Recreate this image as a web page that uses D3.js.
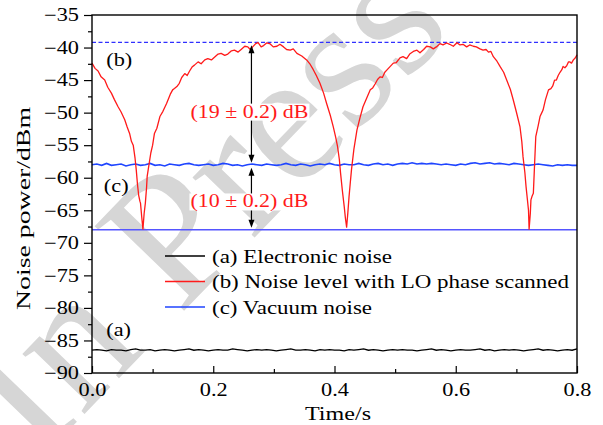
<!DOCTYPE html>
<html lang="en">
<head>
<meta charset="UTF-8" />
<title>Noise power</title>
<script src="https://d3js.org/d3.v7.min.js"></script>
<style>
  body { margin: 0; background: #fff; }
  svg { display: block; font-family: "Liberation Serif", "Times New Roman", serif; }
</style>
</head>
<body>
<svg width="603" height="425"></svg>
<script>
// ---- data ----
const yTicks = [-90, -85, -80, -75, -70, -65, -60, -55, -50, -45, -40, -35];
const xTicks = [0.0, 0.2, 0.4, 0.6, 0.8];

// (b) noise level with LO phase scanned: [time (s), level (dBm)]
const scanPoints = [
  [0, -42.4], [.005, -43.2], [.010, -43.6], [.015, -44.5], [.021, -45.0], [.026, -46.1], [.032, -47.0], [.037, -48.0],
  [.043, -49.1], [.048, -49.9], [.054, -51.1], [.058, -52.2], [.062, -53.2], [.065, -54.4], [.068, -55.0], [.071, -57.0],
  [.073, -58.8], [.075, -61.0], [.077, -62.7], [.079, -63.6], [.080, -63.9], [.082, -66.0], [.084, -67.9], [.086, -65.5],
  [.088, -63.9], [.090, -61.5], [.091, -59.8], [.094, -58.0], [.097, -56.2], [.100, -55.0], [.103, -53.2], [.107, -52.4],
  [.112, -50.6], [.117, -49.8], [.123, -48.6], [.129, -47.2], [.133, -46.5], [.136, -46.3], [.140, -46.0], [.144, -45.5],
  [.148, -44.6], [.153, -44.0], [.157, -44.3], [.161, -43.6], [.165, -43.0], [.169, -42.7], [.175, -42.2], [.180, -42.5],
  [.186, -41.9], [.191, -41.7], [.197, -41.9], [.202, -41.5], [.208, -41.0], [.213, -40.9], [.219, -41.2], [.224, -41.0],
  [.230, -40.5], [.235, -40.4], [.241, -40.7], [.246, -40.3], [.252, -39.8], [.257, -39.9], [.261, -40.3], [.265, -39.9],
  [.270, -39.4], [.274, -39.25], [.279, -39.9], [.283, -39.7], [.288, -39.3], [.294, -39.45], [.299, -39.9], [.305, -39.8],
  [.310, -39.5], [.316, -39.9], [.321, -40.3], [.327, -40.4], [.332, -40.2], [.338, -40.9], [.346, -41.3], [.354, -41.9],
  [.360, -42.6], [.365, -43.4], [.370, -44.3], [.376, -45.5], [.382, -47.0], [.387, -48.6], [.393, -50.4], [.398, -52.2],
  [.402, -53.8], [.405, -55.2], [.408, -57.2], [.410, -59.3], [.413, -62.0], [.416, -64.4], [.418, -66.2], [.420, -67.6],
  [.422, -65.4], [.424, -62.9], [.426, -60.8], [.428, -58.8], [.432, -55.6], [.437, -52.7], [.442, -50.8], [.447, -49.1],
  [.453, -47.8], [.459, -46.5], [.463, -46.2], [.467, -45.6], [.471, -44.9], [.475, -44.5], [.479, -44.6], [.483, -43.8],
  [.487, -43.4], [.492, -42.9], [.497, -42.4], [.502, -42.3], [.508, -41.6], [.513, -41.4], [.519, -41.7], [.524, -41.0],
  [.530, -40.6], [.536, -40.4], [.541, -40.8], [.547, -40.3], [.552, -39.8], [.558, -39.9], [.563, -40.2], [.568, -39.9],
  [.574, -39.4], [.579, -39.6], [.585, -39.3], [.590, -39.5], [.596, -39.8], [.602, -39.25], [.607, -39.6], [.612, -39.5],
  [.618, -39.9], [.623, -39.6], [.629, -39.8], [.634, -39.9], [.640, -40.2], [.645, -40.4], [.650, -40.3], [.654, -40.7],
  [.658, -40.6], [.662, -41.4], [.668, -42.1], [.673, -42.9], [.679, -43.8], [.684, -45.0], [.690, -46.4], [.695, -48.1],
  [.700, -49.9], [.706, -52.2], [.709, -54.5], [.711, -56.8], [.714, -59.2], [.716, -61.4], [.718, -63.2], [.720, -65.0],
  [.721, -67.9], [.723, -65.5], [.724, -63.4], [.726, -62.8], [.728, -62.4], [.730, -58.0], [.732, -53.7], [.736, -52.0],
  [.739, -50.6], [.742, -50.0], [.744, -49.6], [.748, -48.0], [.753, -46.5], [.757, -46.3], [.760, -45.9], [.763, -45.0],
  [.766, -45.0], [.769, -44.3], [.772, -43.8], [.775, -43.4], [.777, -42.9], [.780, -43.1], [.783, -42.8], [.786, -42.2],
  [.788, -42.2], [.791, -42.4], [.794, -41.9], [.797, -41.6], [.800, -41.1]];

// (c) vacuum noise, 101 samples over 0-0.8 s
const vacuumLevel = [-58.0, -57.9, -58.1, -57.8, -58.1, -58.0, -57.9, -58.2, -58.0, -57.9,
  -58.1, -58.0, -57.8, -58.1, -58.0, -58.2, -57.9, -58.0, -58.1, -57.9,
  -57.8, -58.0, -58.1, -58.0, -57.9, -58.1, -58.0, -57.8, -57.9, -58.1,
  -58.0, -58.2, -58.0, -57.9, -58.0, -58.1, -57.9, -58.0, -58.1, -58.0,
  -57.8, -58.0, -58.1, -57.9, -58.0, -58.2, -58.0, -57.9, -58.0, -57.8,
  -58.0, -58.1, -57.9, -58.0, -58.0, -57.8, -58.0, -58.1, -57.9, -57.8,
  -58.0, -57.9, -58.1, -57.9, -57.8, -57.9, -57.7, -57.9, -57.8, -57.9,
  -57.8, -57.9, -58.0, -57.9, -58.0, -58.1, -57.9, -58.0, -57.8, -57.7,
  -57.9, -57.8, -57.7, -57.9, -57.8, -57.9, -58.0, -57.8, -57.9, -58.0,
  -58.1, -58.0, -57.9, -58.0, -58.1, -58.2, -58.0, -58.1, -58.0, -58.1, -58.1];

// (a) electronic noise, 101 samples over 0-0.8 s
const electronicLevel = [-86.5, -86.4, -86.5, -86.6, -86.4, -86.5, -86.5, -86.6, -86.4, -86.3,
  -86.5, -86.5, -86.4, -86.6, -86.5, -86.4, -86.5, -86.6, -86.5, -86.4,
  -86.3, -86.5, -86.4, -86.5, -86.6, -86.5, -86.4, -86.5, -86.5, -86.3,
  -86.4, -86.5, -86.6, -86.5, -86.4, -86.5, -86.4, -86.5, -86.6, -86.5,
  -86.4, -86.3, -86.5, -86.5, -86.4, -86.5, -86.6, -86.4, -86.5, -86.4,
  -86.5, -86.5, -86.6, -86.4, -86.5, -86.4, -86.3, -86.5, -86.4, -86.5,
  -86.6, -86.5, -86.4, -86.5, -86.4, -86.5, -86.5, -86.6, -86.5, -86.4,
  -86.3, -86.5, -86.4, -86.5, -86.6, -86.5, -86.4, -86.5, -86.5, -86.4,
  -86.3, -86.5, -86.4, -86.6, -86.5, -86.4, -86.5, -86.4, -86.5, -86.6,
  -86.5, -86.4, -86.3, -86.5, -86.4, -86.5, -86.6, -86.5, -86.4, -86.5, -86.3];

// reference levels and the annotated gaps
const peakLevel = -39.2;     // dashed line
const floorLevel = -68.0;    // solid line at the dips
const vacuumMean = -58.0;
const arrowTime = 0.263;
const gapLabels = ["(19 ± 0.2) dB", "(10 ± 0.2) dB"];

const legendNames = ["(a) Electronic noise", "(b) Noise level with LO phase scanned", "(c) Vacuum noise"];
const colors = ["#000000", "#ff1a1a", "#1f45ff"];

// ---- layout ----
const svg = d3.select("svg");
const mLeft = 92, mRight = 577, mTop = 15, mBottom = 373;
const x = d3.scaleLinear().domain([0, 0.8]).range([mLeft, mRight]);
const y = d3.scaleLinear().domain([-90, -35]).range([mBottom, mTop]);
const fs = 18, sx = 1.24;   // figure font is wider than Times

// watermark behind everything
svg.append("text")
  .attr("transform", "translate(38,462) rotate(-46)")
  .attr("font-size", 188)
  .attr("fill", "#d6d6d6")
  .text("In Press");

// sample times for the flat traces
const sampleT = (arr) => arr.map((v, i) => [i * 0.8 / (arr.length - 1), v]);

const line = d3.line().x(d => x(d[0])).y(d => y(d[1]));

const plot = svg.append("g");

// reference lines
plot.append("line")
  .attr("x1", x(0)).attr("x2", x(0.8))
  .attr("y1", y(peakLevel)).attr("y2", y(peakLevel))
  .attr("stroke", "#3030ff").attr("stroke-width", 1.1)
  .attr("stroke-dasharray", "4,2.5");
plot.append("line")
  .attr("x1", x(0)).attr("x2", x(0.8))
  .attr("y1", y(floorLevel)).attr("y2", y(floorLevel))
  .attr("stroke", "#5555ff").attr("stroke-width", 1.6);

plot.append("path")
  .datum(sampleT(electronicLevel))
  .attr("d", line).attr("fill", "none")
  .attr("stroke", colors[0]).attr("stroke-width", 1.3);

plot.append("path")
  .datum(sampleT(vacuumLevel))
  .attr("d", line).attr("fill", "none")
  .attr("stroke", colors[2]).attr("stroke-width", 1.6);

plot.append("path")
  .datum(scanPoints)
  .attr("d", line).attr("fill", "none")
  .attr("stroke", colors[1]).attr("stroke-width", 1.3)
  .attr("stroke-linejoin", "round");

// arrows
function arrow(v1, v2) {
  const xa = x(arrowTime), ya = y(v1) + 3, yb = y(v2) - 2;
  plot.append("line").attr("x1", xa).attr("x2", xa).attr("y1", ya + 6).attr("y2", yb - 6)
    .attr("stroke", "#000").attr("stroke-width", 1.2);
  plot.append("path").attr("d", `M${xa},${ya} l-3,8 l6,0 z`).attr("fill", "#000");
  plot.append("path").attr("d", `M${xa},${yb} l-3,-8 l6,0 z`).attr("fill", "#000");
}
arrow(peakLevel, vacuumMean);
arrow(vacuumMean, floorLevel);

function gapText(txt, v) {
  const g = plot.append("g");
  const t = g.append("text")
    .attr("x", x(arrowTime) - 2).attr("y", y(v))
    .attr("dy", "0.35em")
    .attr("text-anchor", "middle")
    .attr("font-size", fs)
    .attr("fill", "#ff1a1a")
    .attr("textLength", 118).attr("lengthAdjust", "spacingAndGlyphs")
    .text(txt);
  const b = t.node().getBBox();
  g.insert("rect", "text")
    .attr("x", b.x - 1).attr("y", b.y + 2).attr("width", b.width + 2).attr("height", b.height - 4)
    .attr("fill", "#fff");
}
gapText(gapLabels[0], -49.8);
gapText(gapLabels[1], -63.6);

// curve tags
function tag(txt, t, v) {
  svg.append("text")
    .attr("x", x(t)).attr("y", y(v)).attr("dy", "0.35em")
    .attr("text-anchor", "middle").attr("font-size", fs)
    .attr("transform", `translate(${x(t)},0) scale(${sx},1) translate(${-x(t)},0)`)
    .text(txt);
}
tag("(b)", 0.045, -41.9);
tag("(c)", 0.040, -61.2);
tag("(a)", 0.044, -83.4);

// legend
legendNames.forEach((name, i) => {
  const ly = 256 + i * 25.5;
  svg.append("line").attr("x1", 165).attr("x2", 205).attr("y1", ly).attr("y2", ly)
    .attr("stroke", colors[i]).attr("stroke-width", 1.3);
  svg.append("text").attr("x", 212).attr("y", ly).attr("dy", "0.38em")
    .attr("font-size", fs)
    .attr("textLength", [180, 357, 160][i]).attr("lengthAdjust", "spacingAndGlyphs")
    .text(name);
});

// frame
svg.append("rect")
  .attr("x", mLeft).attr("y", mTop).attr("width", mRight - mLeft).attr("height", mBottom - mTop)
  .attr("fill", "none").attr("stroke", "#000").attr("stroke-width", 1.4);

// axes
const yAxis = svg.append("g").attr("transform", `translate(${mLeft},0)`)
  .call(d3.axisLeft(y).tickValues(yTicks).tickSize(8).tickPadding(5)
    .tickFormat(d => "\u2212" + Math.abs(d)));
const yMinor = svg.append("g").attr("transform", `translate(${mLeft},0)`)
  .call(d3.axisLeft(y).tickValues(yTicks.slice(0, -1).map(d => d + 2.5)).tickSize(4).tickFormat(""));
const xAxis = svg.append("g").attr("transform", `translate(0,${mBottom})`)
  .call(d3.axisBottom(x).tickValues(xTicks).tickSizeInner(-7).tickSizeOuter(0).tickPadding(10)
    .tickFormat(d3.format(".1f")));
const xMinor = svg.append("g").attr("transform", `translate(0,${mBottom})`)
  .call(d3.axisBottom(x).tickValues([0.1, 0.3, 0.5, 0.7]).tickSizeInner(-4).tickSizeOuter(0).tickFormat(""));

[yAxis, yMinor, xAxis, xMinor].forEach(a => {
  a.select(".domain").remove();
  a.selectAll("line").attr("stroke", "#000").attr("stroke-width", 1.2);
  a.selectAll("text").attr("font-size", fs).attr("font-family", "Liberation Serif, serif").attr("fill", "#000");
});
yAxis.selectAll("text").attr("x", -13 / sx).attr("transform", `scale(${sx},1)`);
xAxis.selectAll("text").attr("transform", `scale(${sx},1)`);

// axis titles
svg.append("text")
  .attr("transform", `translate(30,${(107 + 310) / 2}) rotate(-90)`)
  .attr("text-anchor", "middle").attr("font-size", fs)
  .attr("textLength", 203).attr("lengthAdjust", "spacingAndGlyphs")
  .text("Noise power/dBm");
svg.append("text")
  .attr("x", 338).attr("y", 420)
  .attr("text-anchor", "middle").attr("font-size", fs)
  .attr("textLength", 66).attr("lengthAdjust", "spacingAndGlyphs")
  .text("Time/s");
</script>
</body>
</html>
